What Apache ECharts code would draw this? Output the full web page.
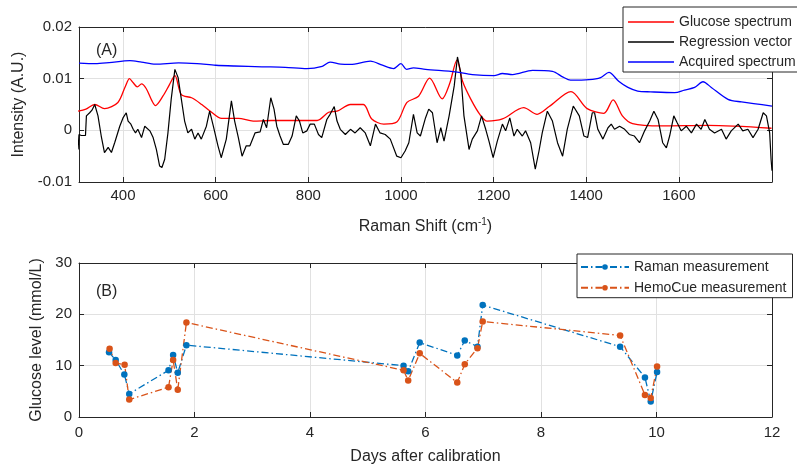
<!DOCTYPE html>
<html>
<head>
<meta charset="utf-8">
<script src="https://cdn.jsdelivr.net/npm/echarts@6/dist/echarts.min.js"></script>
<style>
html,body{margin:0;padding:0;background:#fff;}
#chart{width:797px;height:469px;}
</style>
</head>
<body>
<div id="chart"></div>
<script>
// ---------- Panel A data (Raman shift in cm^-1, intensity in A.U.) ----------
const glucoseShift = [303,320,339,360,389,405,414,422,431,440,450,462,470,486,500,512,526,548,570,587,613,649,681,720,761,819,844,862,891,919,937,963,991,1013,1038,1062,1089,1105,1121,1133,1151,1171,1186,1219,1265,1294,1320,1367,1402,1438,1458,1478,1500,1562,1663,1800];
const glucoseSpectrum = [0.0037,0.0041,0.0050,0.0042,0.0054,0.0085,0.0100,0.0092,0.0084,0.0090,0.0081,0.0058,0.0048,0.0066,0.0088,0.0106,0.0069,0.0063,0.0050,0.0038,0.0023,0.0023,0.0018,0.0019,0.0019,0.0019,0.0035,0.0037,0.0050,0.0050,0.0022,0.0012,0.0016,0.0054,0.0066,0.0101,0.0061,0.0090,0.0136,0.0095,0.0060,0.0030,0.0018,0.0022,0.0044,0.0031,0.0046,0.0075,0.0042,0.0033,0.0059,0.0028,0.0013,0.00085,0.00095,0.0004];

const regressionShift = [303,305,310,319,321,328,333,339,346,353,360,368,375,382,393,400,407,411,417,422,427,432,440,447,450,458,465,472,479,484,490,497,504,512,519,526,533,540,548,555,562,569,580,587,595,605,612,623,634,641,649,657,666,674,685,696,703,710,719,726,732,739,746,757,765,774,781,788,797,804,813,822,829,840,847,856,862,869,880,891,901,912,923,934,945,955,966,977,991,1000,1009,1017,1027,1035,1042,1053,1060,1068,1078,1086,1093,1104,1115,1122,1129,1136,1147,1154,1165,1174,1183,1190,1199,1208,1219,1226,1235,1244,1251,1262,1269,1280,1290,1298,1305,1316,1327,1338,1349,1359,1372,1385,1395,1403,1413,1418,1425,1436,1447,1454,1461,1472,1483,1493,1504,1515,1526,1537,1546,1555,1565,1573,1580,1589,1596,1605,1616,1627,1638,1648,1656,1666,1677,1692,1702,1713,1728,1738,1749,1760,1771,1782,1789,1796,1799,1801];
const regressionVector = [-0.0037,-0.0008,-0.0010,-0.0010,0.0028,0.0034,0.0039,0.0050,0.0028,-0.0011,-0.0043,-0.0033,-0.0043,-0.0024,0.0008,0.0024,0.0034,0.0018,0.0012,0.0002,-0.0005,0.0002,-0.0014,0.0008,0.0010,-0.0001,-0.0014,-0.0037,-0.0069,-0.0072,-0.0056,-0.0005,0.0060,0.0118,0.0102,0.0060,0.0018,-0.0005,0.0002,-0.0017,-0.0005,-0.0017,0.0008,0.0037,0.0008,-0.0030,-0.0053,-0.0017,0.0057,0.0018,-0.0014,-0.0050,-0.0030,-0.0030,-0.0005,-0.0003,0.0021,0.0005,0.0063,0.0041,0.0008,-0.0011,-0.0027,-0.0027,-0.0011,0.0028,0.0018,-0.0005,-0.0001,0.0012,0.0012,-0.0008,-0.0014,0.0021,0.0031,0.0046,0.0018,0.0002,-0.0008,0.0002,-0.0005,0.0005,-0.0005,-0.0030,0.0012,-0.0005,-0.0008,-0.0017,-0.0050,-0.0053,-0.0040,-0.0024,0.0031,-0.0005,-0.0011,0.0024,0.0041,0.0034,-0.0024,0.0005,-0.0021,0.0028,0.0086,0.0142,0.0112,0.0028,-0.0037,-0.0017,-0.0001,0.0028,0.0002,-0.0021,-0.0053,-0.0021,0.0012,-0.0001,0.0024,-0.0011,0.0002,-0.0011,-0.0001,-0.0024,-0.0075,-0.0040,-0.0005,0.0037,0.0018,-0.0024,-0.0050,0.0002,0.0047,0.0028,-0.0011,-0.0014,0.0034,0.0034,0.0002,-0.0017,0.0005,0.0012,0.0002,0.0008,0.0002,-0.0008,-0.0011,-0.0024,-0.0001,0.0018,0.0037,0.0021,-0.0024,-0.0034,-0.0011,0.0028,0.0015,-0.0001,0.0008,-0.0005,0.0012,0.0002,0.0021,0.0002,-0.0005,0.0002,-0.0017,-0.0001,0.0012,-0.0001,0.0002,-0.0014,0.0002,0.0034,0.0028,-0.0005,-0.0056,-0.0078];

const acquiredShift = [305,340,370,415,440,470,520,560,600,640,700,750,797,830,847,870,891,934,960,984,1000,1012,1027,1053,1118,1154,1201,1219,1241,1284,1327,1350,1366,1406,1431,1449,1470,1490,1511,1539,1591,1612,1634,1652,1670,1706,1735,1801];
const acquiredSpectrum = [0.0130,0.0129,0.0131,0.0135,0.0132,0.0128,0.01305,0.0129,0.0126,0.01245,0.0123,0.0122,0.01195,0.0124,0.0132,0.0128,0.01275,0.0134,0.0126,0.01195,0.0129,0.0118,0.0121,0.0118,0.0113,0.0108,0.0106,0.0110,0.0108,0.0116,0.0114,0.0103,0.0097,0.0098,0.0102,0.0112,0.0095,0.0083,0.0076,0.00745,0.0073,0.0078,0.0083,0.0094,0.0083,0.0060,0.0055,0.0047];

const intensityTicks = [-0.01, 0, 0.01, 0.02];
const shiftTicks = [400, 600, 800, 1000, 1200, 1400, 1600];

// ---------- Panel B data (days after calibration, glucose mmol/L) ----------
const ramanDays = [0.52,0.635,0.785,0.87,1.55,1.63,1.71,1.86,5.62,5.70,5.90,6.55,6.68,6.90,6.99,9.37,9.80,9.90,10.01];
const ramanGlucose = [12.6,11.1,8.3,4.5,9.1,12.1,8.6,14.0,10.0,8.9,14.5,12.0,14.9,13.7,21.8,13.7,7.7,3.0,8.75];
const hemoDays = [0.53,0.635,0.79,0.87,1.55,1.63,1.71,1.86,5.62,5.70,5.90,6.55,6.68,6.90,6.99,9.37,9.80,9.90,10.01];
const hemoGlucose = [13.3,10.5,10.2,3.4,5.8,11.1,5.3,18.4,9.1,7.1,12.4,6.7,10.3,13.4,18.6,15.9,4.3,3.7,9.85];

const pair = (xs, ys) => xs.map((x, i) => [x, ys[i]]);

const TXT = '#262626';
const AX = '#262626';
const GRIDC = '#e1e1e1';
const FONT = '"Liberation Sans", Arial, sans-serif';

const chart = echarts.init(document.getElementById('chart'), null, {renderer: 'canvas'});

function mainAxisCommon() {
  return {
    axisLine: {show: true, onZero: false, lineStyle: {color: AX, width: 1}},
    axisTick: {show: true, inside: true, length: 5, lineStyle: {color: AX, width: 1}},
    axisLabel: {color: TXT, fontSize: 15, fontFamily: FONT},
    splitLine: {show: true, lineStyle: {color: GRIDC, width: 1}},
    nameTextStyle: {color: TXT, fontSize: 16, fontFamily: FONT}
  };
}
function mirrorAxis(extra) {
  return Object.assign({
    axisLine: {show: true, onZero: false, lineStyle: {color: AX, width: 1}},
    axisTick: {show: true, inside: true, length: 5, lineStyle: {color: AX, width: 1}},
    axisLabel: {show: false},
    splitLine: {show: false}
  }, extra);
}

const option = {
  animation: false,
  backgroundColor: '#ffffff',
  textStyle: {fontFamily: FONT},
  grid: [
    {left: 79, right: 25, top: 27, height: 155, containLabel: false},
    {left: 79, right: 25, top: 263, height: 154, containLabel: false}
  ],
  xAxis: [
    Object.assign(mainAxisCommon(), {
      type: 'value', gridIndex: 0, min: 305, max: 1801, position: 'bottom',
      name: 'Raman Shift (cm{sup|-1})', nameLocation: 'middle', nameGap: 35,
      nameTextStyle: {color: TXT, fontSize: 16, fontFamily: FONT, lineHeight: 20,
        rich: {sup: {fontSize: 10, color: TXT, fontFamily: FONT, verticalAlign: 'top', lineHeight: 10, padding: [0, 0, 6, 0]}}},
      axisTick: {show: true, inside: true, length: 5, lineStyle: {color: AX}, customValues: shiftTicks},
      axisLabel: {color: TXT, fontSize: 15, fontFamily: FONT, margin: 6, customValues: shiftTicks,
        formatter: v => String(v)}
    }),
    mirrorAxis({type: 'value', gridIndex: 0, min: 305, max: 1801, position: 'top',
      axisTick: {show: true, inside: true, length: 5, lineStyle: {color: AX}, customValues: shiftTicks}}),
    Object.assign(mainAxisCommon(), {
      type: 'value', gridIndex: 1, min: 0, max: 12, interval: 2, position: 'bottom',
      name: 'Days after calibration', nameLocation: 'middle', nameGap: 32
    }),
    mirrorAxis({type: 'value', gridIndex: 1, min: 0, max: 12, interval: 2, position: 'top'})
  ],
  yAxis: [
    Object.assign(mainAxisCommon(), {
      type: 'value', gridIndex: 0, min: -0.01, max: 0.02, interval: 0.01, position: 'left',
      name: 'Intensity (A.U.)', nameLocation: 'middle', nameGap: 48,
      axisLabel: {color: TXT, fontSize: 15, fontFamily: FONT, margin: 7,
        formatter: v => Math.abs(v) < 1e-9 ? '0' : (+v).toFixed(2)}
    }),
    mirrorAxis({type: 'value', gridIndex: 0, min: -0.01, max: 0.02, interval: 0.01, position: 'right'}),
    Object.assign(mainAxisCommon(), {
      type: 'value', gridIndex: 1, min: 0, max: 30, interval: 10, position: 'left',
      name: 'Glucose level (mmol/L)', nameLocation: 'middle', nameGap: 27,
      axisLabel: {color: TXT, fontSize: 15, fontFamily: FONT, margin: 7}
    }),
    mirrorAxis({type: 'value', gridIndex: 1, min: 0, max: 30, interval: 10, position: 'right'})
  ],
  legend: [
    {
      data: [
        {name: 'Glucose spectrum', icon: 'rect'},
        {name: 'Regression vector', icon: 'rect'},
        {name: 'Acquired spectrum', icon: 'rect'}
      ],
      orient: 'vertical', left: 623, top: 7,
      itemWidth: 46, itemHeight: 1.4, itemGap: 6,
      padding: [8, 12, 3, 5],
      backgroundColor: '#ffffff', borderColor: '#262626', borderWidth: 1, borderRadius: 0,
      textStyle: {color: TXT, fontSize: 14, fontFamily: FONT}
    },
    {
      data: ['Raman measurement', 'HemoCue measurement'],
      orient: 'vertical', left: 577, top: 254,
      itemWidth: 48, itemHeight: 7, itemGap: 6.7,
      padding: [6, 6, 3, 3],
      backgroundColor: '#ffffff', borderColor: '#262626', borderWidth: 1, borderRadius: 0,
      textStyle: {color: TXT, fontSize: 14, fontFamily: FONT}
    }
  ],
  graphic: [
    {type: 'text', left: 96, top: 43, style: {text: '(A)', fill: TXT, fontSize: 16, fontFamily: FONT}},
    {type: 'text', left: 96, top: 284, style: {text: '(B)', fill: TXT, fontSize: 16, fontFamily: FONT}}
  ],
  series: [
    {
      name: 'Glucose spectrum', type: 'line', xAxisIndex: 0, yAxisIndex: 0,
      data: pair(glucoseShift, glucoseSpectrum), smooth: 0.3, symbol: 'none',
      lineStyle: {color: '#ff0000', width: 1.3}, itemStyle: {color: '#ff0000'}
    },
    {
      name: 'Regression vector', type: 'line', xAxisIndex: 0, yAxisIndex: 0,
      data: pair(regressionShift, regressionVector), symbol: 'none',
      lineStyle: {color: '#000000', width: 1.2}, itemStyle: {color: '#000000'}
    },
    {
      name: 'Acquired spectrum', type: 'line', xAxisIndex: 0, yAxisIndex: 0,
      data: pair(acquiredShift, acquiredSpectrum), smooth: 0.3, symbol: 'none',
      lineStyle: {color: '#0000ff', width: 1.3}, itemStyle: {color: '#0000ff'}
    },
    {
      name: 'Raman measurement', type: 'line', xAxisIndex: 2, yAxisIndex: 2,
      data: pair(ramanDays, ramanGlucose), symbol: 'circle', symbolSize: 6.5, showSymbol: true,
      lineStyle: {color: '#0072BD', width: 1.3, type: [7, 3, 1.5, 3]},
      itemStyle: {color: '#0072BD', borderWidth: 0}
    },
    {
      name: 'HemoCue measurement', type: 'line', xAxisIndex: 2, yAxisIndex: 2,
      data: pair(hemoDays, hemoGlucose), symbol: 'circle', symbolSize: 6.5, showSymbol: true,
      lineStyle: {color: '#D95319', width: 1.3, type: [7, 3, 1.5, 3]},
      itemStyle: {color: '#D95319', borderWidth: 0}
    }
  ]
};
chart.setOption(option);
</script>
</body>
</html>
